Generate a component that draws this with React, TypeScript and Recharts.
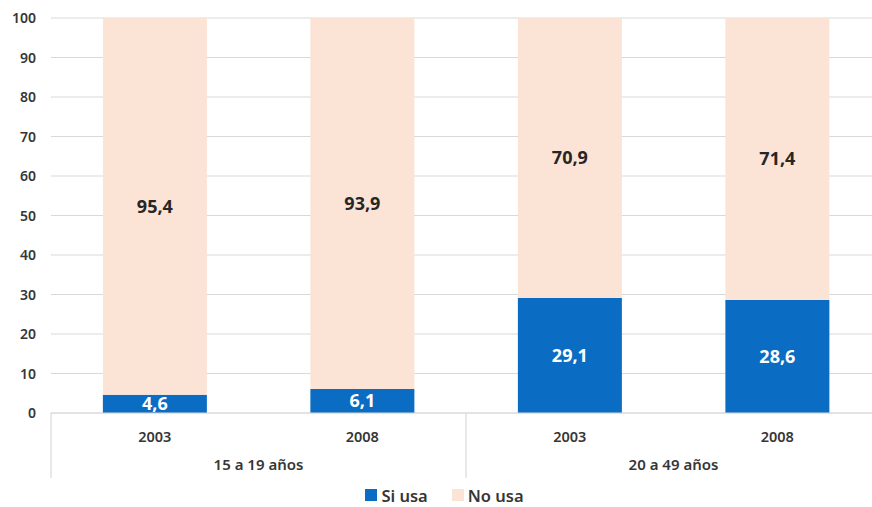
import React from "react";
import { BarChart, Bar, XAxis, YAxis, CartesianGrid, Legend, LabelList } from "recharts";

const years = ["2003", "2008", "2003", "2008"];
const groups = ["15 a 19 años", "15 a 19 años", "20 a 49 años", "20 a 49 años"];
const siUsa = [4.6, 6.1, 29.1, 28.6];
const noUsa = [95.4, 93.9, 70.9, 71.4];
const yTicks = [0, 10, 20, 30, 40, 50, 60, 70, 80, 90, 100];

const BLUE = "#0A6CC2";
const PEACH = "#FBE3D6";
const FONT = "'Open Sans', Lato, sans-serif";
const TICKFONT = "'Noto Sans', 'Open Sans', sans-serif";
const TXT = "#363636";

const data = years.map((y, i) => ({
  key: `${groups[i]}-${y}-${i}`,
  year: y,
  group: groups[i],
  si: siUsa[i],
  no: noUsa[i],
}));

const fmt = (v: any) => String(v).replace(".", ",");

const YearTick = (props: any) => {
  const { x, y, payload, index } = props;
  const half = payload && payload.offset ? payload.offset : 0;
  const lines: any[] = [];
  if (index === 0) lines.push(x - half);
  if (index === 1 || index === 3) lines.push(x + half);
  return (
    <g>
      {lines.map((lx, k) => (
        <line key={k} x1={lx} x2={lx} y1={y - 8} y2={y + 57} stroke="#d9d9d9" strokeWidth={1.2} />
      ))}
      <text x={x} y={y + 21} textAnchor="middle" fill={TXT} fontSize={14.5} fontWeight={600} fontFamily={TICKFONT}>
        {data[index] ? data[index].year : payload.value}
      </text>
    </g>
  );
};

const GroupTick = (props: any) => {
  const { x, y, payload } = props;
  return (
    <text x={x} y={y + 19} textAnchor="middle" fill={TXT} fontSize={15} fontWeight={600} fontFamily={TICKFONT}>
      {payload.value}
    </text>
  );
};

const YTick = (props: any) => {
  const { x, y, payload } = props;
  return (
    <text x={x - 7} y={y + 5} textAnchor="end" fill={TXT} fontSize={14} fontWeight={600} fontFamily={TICKFONT}>
      {payload.value}
    </text>
  );
};

const LegendContent = () => (
  <div style={{ display: "flex", justifyContent: "center", alignItems: "center", fontFamily: TICKFONT, fontSize: 16.5, fontWeight: 600, color: TXT, height: 24, paddingLeft: 8 }}>
    <span style={{ display: "inline-block", width: 12, height: 12, background: BLUE, marginRight: 4 }} />
    <span style={{ marginRight: 24 }}>Si usa</span>
    <span style={{ display: "inline-block", width: 12, height: 12, background: PEACH, marginRight: 4 }} />
    <span>No usa</span>
  </div>
);

export default function App() {
  return (
    <div style={{ position: "absolute", left: 0, top: 0, width: 872, height: 507, overflow: "hidden", background: "#fff" }}>
      <BarChart
        width={890}
        height={507}
        data={data}
        margin={{ top: 18, right: 9, left: 0, bottom: 0 }}
        barCategoryGap="25%"
      >
        <CartesianGrid vertical={false} stroke="#d9d9d9" strokeWidth={1.2} />
        <XAxis
          dataKey="key"
          xAxisId={0}
          height={30}
          tickLine={false}
          axisLine={{ stroke: "#d9d9d9", strokeWidth: 1.2 }}
          tick={<YearTick />}
          interval={0}
        />
        <XAxis
          dataKey="group"
          xAxisId="grp"
          height={40}
          tickLine={false}
          axisLine={false}
          allowDuplicatedCategory={false}
          tick={<GroupTick />}
          interval={0}
        />
        <YAxis
          width={51}
          domain={[0, 100]}
          ticks={yTicks}
          tickLine={false}
          axisLine={false}
          tick={<YTick />}
          interval={0}
        />
        <Legend verticalAlign="bottom" height={24} content={<LegendContent />} />
        <Bar dataKey="si" name="Si usa" stackId="a" fill={BLUE} isAnimationActive={false} xAxisId={0}>
          <LabelList dataKey="si" position="center" formatter={fmt} fill="#ffffff" fontSize={18} fontWeight={700} fontFamily={FONT} />
        </Bar>
        <Bar dataKey="no" name="No usa" stackId="a" fill={PEACH} isAnimationActive={false} xAxisId={0}>
          <LabelList dataKey="no" position="center" formatter={fmt} fill="#262626" fontSize={18} fontWeight={700} fontFamily={FONT} />
        </Bar>
      </BarChart>
    </div>
  );
}
